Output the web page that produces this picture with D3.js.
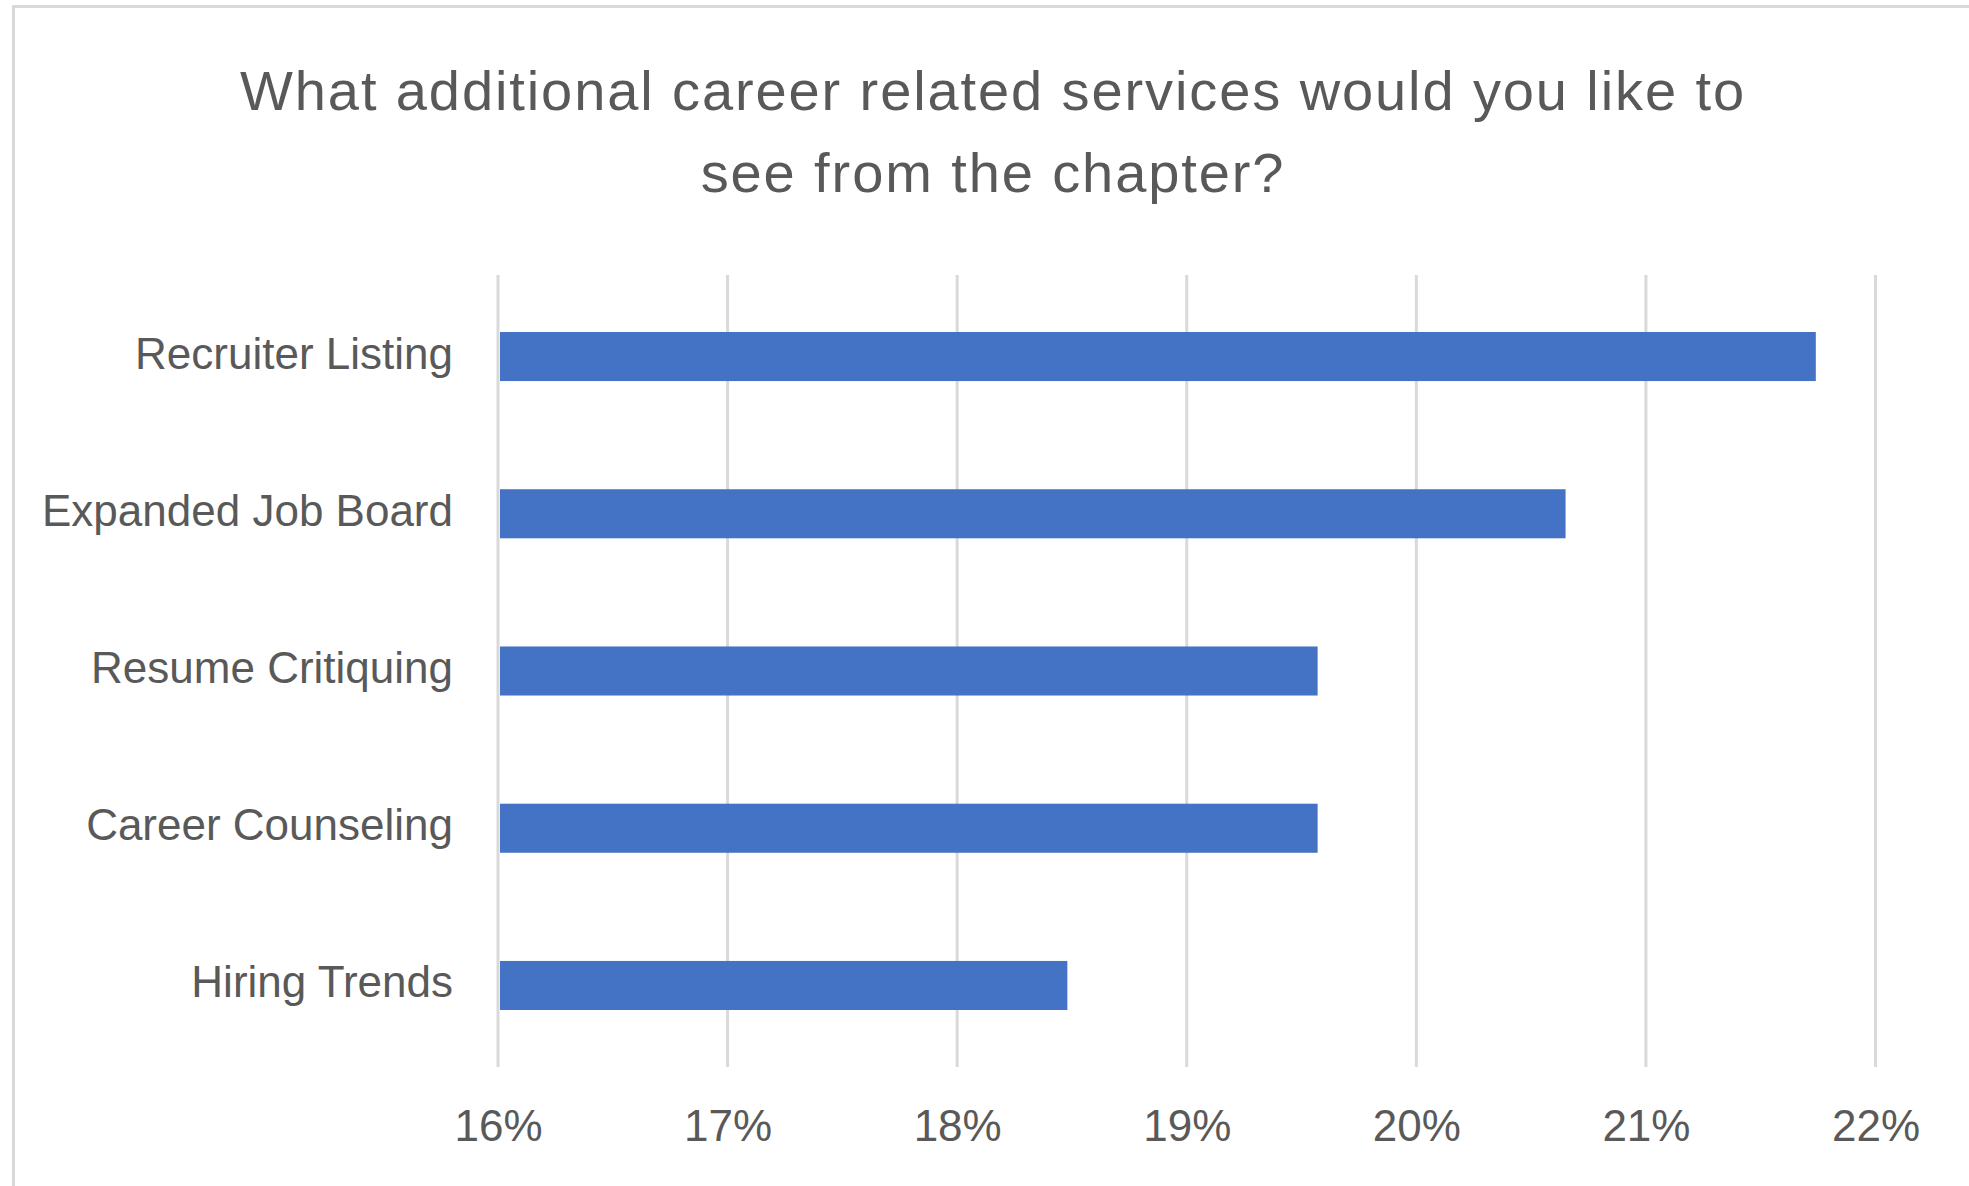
<!DOCTYPE html>
<html>
<head>
<meta charset="utf-8">
<script src="https://cdn.jsdelivr.net/npm/d3@7"></script>
<style>
  body { margin: 0; background: #fff; }
  text { font-family: "Liberation Sans", Arial, sans-serif; fill: #595959; }
</style>
</head>
<body>
<div id="chart"></div>
<script>
// data (shares of 92 answers)
const categories = ["Recruiter Listing", "Expanded Job Board", "Resume Critiquing", "Career Counseling", "Hiring Trends"]
const shares = [0.2174, 0.2065, 0.1957, 0.1957, 0.1848]
const tickValues = [0.16, 0.17, 0.18, 0.19, 0.20, 0.21, 0.22]
const titleLines = ["What additional career related services would you like to", "see from the chapter?"]

const w = 1969
const h = 1186
const plot = { left: 498, right: 1875.5, top: 275, bottom: 1067 }

const svg = d3.select("#chart")
  .append("svg")
  .attr("width", w)
  .attr("height", h)

// chart border (right and bottom edges fall outside the picture)
svg.append("rect")
  .attr("x", 13.5)
  .attr("y", 6.5)
  .attr("width", w)
  .attr("height", h)
  .attr("fill", "#fff")
  .attr("stroke", "#d9d9d9")
  .attr("stroke-width", 3)

const x = d3.scaleLinear()
  .domain([0.16, 0.22])
  .range([plot.left, plot.right])

// excel gap width ~220%
const y = d3.scaleBand()
  .domain(categories)
  .range([plot.top, plot.bottom])
  .paddingInner(0.688)
  .paddingOuter(0.3625)

// vertical gridlines
svg.append("g")
  .selectAll("line")
  .data(tickValues)
  .enter()
  .append("line")
  .attr("x1", d => x(d))
  .attr("x2", d => x(d))
  .attr("y1", plot.top)
  .attr("y2", plot.bottom)
  .attr("stroke", "#d9d9d9")
  .attr("stroke-width", 3)

// bars
svg.append("g")
  .selectAll("rect")
  .data(categories)
  .enter()
  .append("rect")
  .attr("x", x(0.16) + 2)
  .attr("y", d => y(d))
  .attr("width", (d, i) => x(shares[i]) - x(0.16) - 2)
  .attr("height", y.bandwidth())
  .attr("fill", "#4472c4")

// category labels
svg.append("g")
  .selectAll("text")
  .data(categories)
  .enter()
  .append("text")
  .attr("x", 453)
  .attr("y", d => y(d) + y.bandwidth() / 2 + 12)
  .attr("text-anchor", "end")
  .attr("font-size", 44)
  .text(d => d)

// x axis tick labels
const xAxis = d3.axisBottom(x)
  .tickValues(tickValues)
  .tickFormat(d3.format(".0%"))
  .tickSize(0)
  .tickPadding(0)

const axisG = svg.append("g")
  .attr("transform", "translate(0," + plot.bottom + ")")
  .call(xAxis)
axisG.select(".domain").remove()
axisG.selectAll("text")
  .attr("y", 0)
  .attr("dy", 0)
  .attr("transform", "translate(0,74)")
  .attr("font-size", 44)
  .attr("font-family", "Liberation Sans, Arial, sans-serif")
  .style("fill", "#595959")

// title
svg.append("g")
  .selectAll("text")
  .data(titleLines)
  .enter()
  .append("text")
  .attr("x", 993)
  .attr("y", (d, i) => 110 + i * 82)
  .attr("text-anchor", "middle")
  .attr("font-size", 56)
  .attr("letter-spacing", 1.9)
  .text(d => d)
</script>
</body>
</html>
